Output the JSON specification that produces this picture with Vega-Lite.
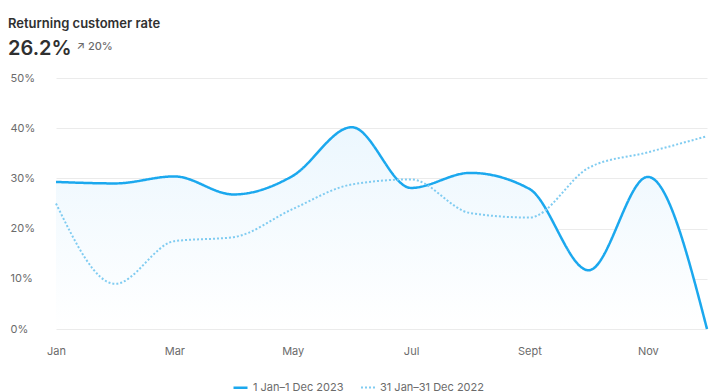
{
  "$schema": "https://vega.github.io/schema/vega-lite/v6.json",
  "width": 651,
  "height": 251,
  "autosize": "none",
  "padding": {"left": 56, "top": 78, "right": 18, "bottom": 63},
  "background": "#ffffff",
  "title": {
    "text": "Returning customer rate",
    "subtitle": "26.2%",
    "anchor": "start",
    "frame": "group",
    "dx": -48,
    "dy": 41,
    "offset": 22,
    "font": "Inter",
    "fontSize": 13,
    "fontWeight": 600,
    "color": "#303030",
    "subtitleFont": "Inter",
    "subtitleFontSize": 20,
    "subtitleFontWeight": 600,
    "subtitleColor": "#303030",
    "subtitlePadding": 8
  },
  "data": {
    "values": [
      {"month": "Jan", "series": "1 Jan–1 Dec 2023", "rate": 29.3},
      {"month": "Feb", "series": "1 Jan–1 Dec 2023", "rate": 29.0},
      {"month": "Mar", "series": "1 Jan–1 Dec 2023", "rate": 30.4},
      {"month": "Apr", "series": "1 Jan–1 Dec 2023", "rate": 26.8},
      {"month": "May", "series": "1 Jan–1 Dec 2023", "rate": 30.5},
      {"month": "Jun", "series": "1 Jan–1 Dec 2023", "rate": 40.2},
      {"month": "Jul", "series": "1 Jan–1 Dec 2023", "rate": 28.1},
      {"month": "Aug", "series": "1 Jan–1 Dec 2023", "rate": 31.1},
      {"month": "Sept", "series": "1 Jan–1 Dec 2023", "rate": 27.9},
      {"month": "Oct", "series": "1 Jan–1 Dec 2023", "rate": 11.7},
      {"month": "Nov", "series": "1 Jan–1 Dec 2023", "rate": 30.3},
      {"month": "Dec", "series": "1 Jan–1 Dec 2023", "rate": 0},
      {"month": "Jan", "series": "31 Jan–31 Dec 2022", "rate": 25.0},
      {"month": "Feb", "series": "31 Jan–31 Dec 2022", "rate": 9.0},
      {"month": "Mar", "series": "31 Jan–31 Dec 2022", "rate": 17.5},
      {"month": "Apr", "series": "31 Jan–31 Dec 2022", "rate": 18.3},
      {"month": "May", "series": "31 Jan–31 Dec 2022", "rate": 23.9},
      {"month": "Jun", "series": "31 Jan–31 Dec 2022", "rate": 28.8},
      {"month": "Jul", "series": "31 Jan–31 Dec 2022", "rate": 29.8},
      {"month": "Aug", "series": "31 Jan–31 Dec 2022", "rate": 23.1},
      {"month": "Sept", "series": "31 Jan–31 Dec 2022", "rate": 22.2},
      {"month": "Oct", "series": "31 Jan–31 Dec 2022", "rate": 32.1},
      {"month": "Nov", "series": "31 Jan–31 Dec 2022", "rate": 35.2},
      {"month": "Dec", "series": "31 Jan–31 Dec 2022", "rate": 38.4}
    ]
  },
  "encoding": {
    "x": {
      "field": "month",
      "type": "ordinal",
      "sort": null,
      "scale": {"type": "point", "padding": 0},
      "axis": {
        "title": null,
        "values": ["Jan", "Mar", "May", "Jul", "Sept", "Nov"],
        "labelAngle": 0,
        "labelFont": "Inter",
        "labelFontSize": 11,
        "labelColor": "#6b6b6b",
        "labelPadding": 16,
        "ticks": false,
        "tickSize": 0,
        "domain": false,
        "grid": false
      }
    },
    "y": {
      "field": "rate",
      "type": "quantitative",
      "scale": {"domain": [0, 50], "nice": false},
      "axis": {
        "title": "↗ 20%",
        "titleAngle": 0,
        "titleX": 20,
        "titleY": -32,
        "titleAlign": "left",
        "titleBaseline": "middle",
        "titleFont": "Inter",
        "titleFontSize": 11,
        "titleFontWeight": 500,
        "titleColor": "#6b6b6b",
        "values": [0, 10, 20, 30, 40, 50],
        "labelExpr": "datum.value + '%'",
        "labelAlign": "left",
        "labelPadding": 46,
        "labelFont": "Inter",
        "labelFontSize": 11,
        "labelColor": "#6b6b6b",
        "ticks": false,
        "tickSize": 0,
        "domain": false,
        "grid": true,
        "gridColor": "#ebebeb",
        "gridWidth": 1
      }
    }
  },
  "layer": [
    {
      "transform": [{"filter": "datum.series === '1 Jan–1 Dec 2023'"}],
      "mark": {
        "type": "area",
        "interpolate": "monotone",
        "fill": {
          "gradient": "linear",
          "x1": 0, "y1": 0, "x2": 0, "y2": 1,
          "stops": [
            {"offset": 0, "color": "#ecf7fe"},
            {"offset": 1, "color": "#ffffff"}
          ]
        }
      },
      "encoding": {
        "y2": {"datum": 0}
      }
    },
    {
      "mark": {"type": "line", "interpolate": "monotone", "strokeCap": "butt"},
      "encoding": {
        "color": {
          "field": "series",
          "type": "nominal",
          "sort": null,
          "scale": {
            "domain": ["1 Jan–1 Dec 2023", "31 Jan–31 Dec 2022"],
            "range": ["#1ba8ee", "#80ccf1"]
          },
          "legend": {
            "title": null,
            "orient": "none",
            "direction": "horizontal",
            "legendX": 176,
            "legendY": 301,
            "symbolType": "stroke",
            "symbolSize": 196,
            "symbolStrokeWidth": 2.5,
            "labelFont": "Inter",
            "labelFontSize": 11,
            "labelColor": "#6b6b6b",
            "columnPadding": 13,
            "labelOffset": 4
          }
        },
        "strokeDash": {
          "field": "series",
          "type": "nominal",
          "sort": null,
          "scale": {
            "domain": ["1 Jan–1 Dec 2023", "31 Jan–31 Dec 2022"],
            "range": [[1, 0], [2, 2]]
          },
          "legend": {
            "title": null,
            "orient": "none",
            "direction": "horizontal",
            "legendX": 176,
            "legendY": 301,
            "symbolType": "stroke",
            "symbolSize": 196,
            "symbolStrokeWidth": 2.5,
            "labelFont": "Inter",
            "labelFontSize": 11,
            "labelColor": "#6b6b6b",
            "columnPadding": 13,
            "labelOffset": 4
          }
        },
        "strokeWidth": {
          "field": "series",
          "type": "nominal",
          "sort": null,
          "scale": {
            "domain": ["1 Jan–1 Dec 2023", "31 Jan–31 Dec 2022"],
            "range": [2.5, 2]
          },
          "legend": null
        },
        "order": {"field": "series", "sort": "descending"}
      }
    }
  ],
  "config": {
    "view": {"stroke": null},
    "font": "Inter"
  }
}
